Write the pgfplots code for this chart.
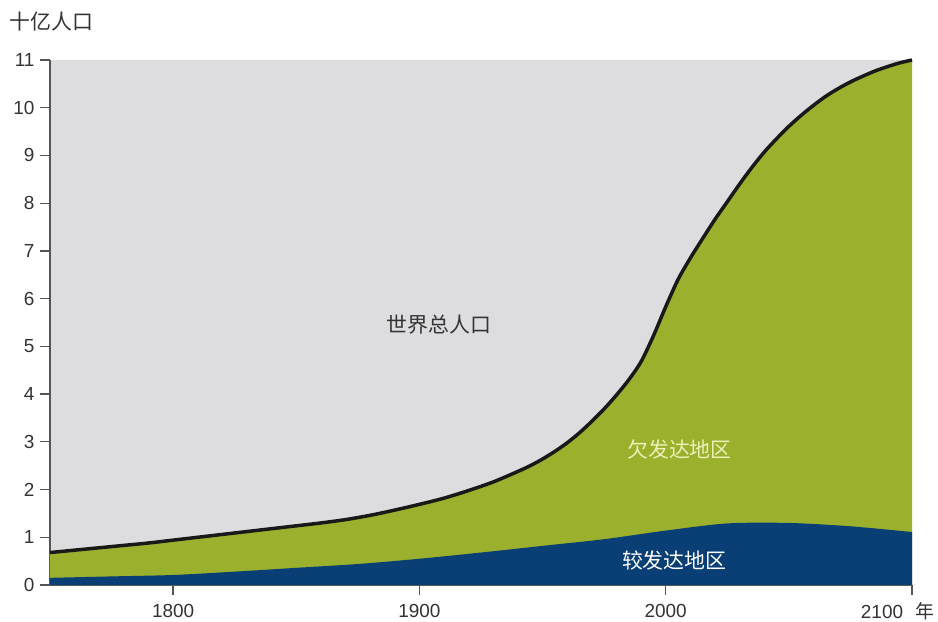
\documentclass[border=0pt]{standalone}
\usepackage{fontspec}
\setmainfont{Liberation Sans}
\newfontfamily\cjk{Noto Sans CJK SC}
\usepackage{pgfplots}
\pgfplotsset{compat=1.18}
\definecolor{bggray}{HTML}{DDDDE0}
\definecolor{dgreen}{HTML}{9BB02D}
\definecolor{dblue}{HTML}{0A3F75}
\definecolor{axgray}{HTML}{555555}
\definecolor{txtgray}{HTML}{333333}
\definecolor{paleyel}{HTML}{EEF0B8}
\pgfplotstableread{
year total
1750 0.68
1760 0.73
1770 0.78
1780 0.83
1790 0.88
1800 0.94
1810 1.00
1820 1.06
1830 1.12
1840 1.18
1850 1.24
1860 1.30
1870 1.37
1880 1.46
1890 1.57
1900 1.69
1910 1.82
1920 1.98
1930 2.16
1940 2.38
1945 2.50
1950 2.64
1955 2.80
1960 2.98
1965 3.19
1970 3.43
1975 3.69
1980 3.98
1985 4.30
1990 4.68
1995 5.22
2000 5.83
2005 6.40
2010 6.85
2015 7.26
2020 7.66
2025 8.03
2030 8.40
2035 8.75
2040 9.07
2045 9.35
2050 9.61
2055 9.84
2060 10.05
2065 10.24
2070 10.40
2075 10.54
2080 10.66
2085 10.77
2090 10.86
2095 10.94
2100 11.00
}\totaltable
\pgfplotstableread{
year more
1750 0.15
1775 0.18
1800 0.21
1825 0.28
1850 0.36
1875 0.44
1900 0.55
1925 0.68
1950 0.82
1975 0.96
2000 1.14
2025 1.29
2050 1.30
2075 1.23
2100 1.11
}\moretable
\begin{document}
\begin{tikzpicture}
\useasboundingbox (0,0) rectangle (938bp,622bp);
\begin{axis}[
  at={(50bp,37bp)}, anchor=south west,
  scale only axis, width=862bp, height=525bp,
  xmin=1750, xmax=2100, ymin=0, ymax=11,
  axis x line*=bottom, axis y line*=left,
  axis line style={axgray, line width=1.3bp},
  axis background/.style={fill=bggray},
  xtick={1800,1900,2000,2100},
  xticklabels={1800,1900,2000,{}},
  ytick={0,1,...,11},
  tick align=outside,
  major tick length=10bp,
  tick style={axgray, line width=1.3bp},
  /pgf/number format/assume math mode=true,
  /pgf/number format/1000 sep={},
  tick label style={font=\fontsize{19}{22}\selectfont, text=txtgray},
  yticklabel style={xshift=-2bp},
  xticklabel style={yshift=-6bp},
  clip=false,
]
\addplot[fill=dgreen, draw=none, smooth] table[x=year, y=total] {\totaltable} \closedcycle;
\addplot[fill=dblue, draw=none, smooth] table[x=year, y=more] {\moretable} \closedcycle;
\addplot[black!90, line width=3.5bp, smooth] table[x=year, y=total] {\totaltable};
\node[text=txtgray, font=\cjk\fontsize{21}{24}\selectfont] at (axis cs:1907.8,5.45) {世界总人口};
\node[text=paleyel, font=\cjk\fontsize{21}{24}\selectfont] at (axis cs:2005.6,2.83) {欠发达地区};
\node[text=white, font=\cjk\fontsize{21}{24}\selectfont] at (axis cs:2003.5,0.52) {较发达地区};
\end{axis}
\node[anchor=west, text=txtgray, font=\cjk\fontsize{21}{24}\selectfont] at (6bp,600bp) {十亿人口};
\node[text=txtgray, font=\fontsize{19}{22}\selectfont] at (882bp,10bp) {2100};
\node[text=txtgray, font=\cjk\fontsize{19}{22}\selectfont] at (925bp,11bp) {年};
\end{tikzpicture}
\end{document}
